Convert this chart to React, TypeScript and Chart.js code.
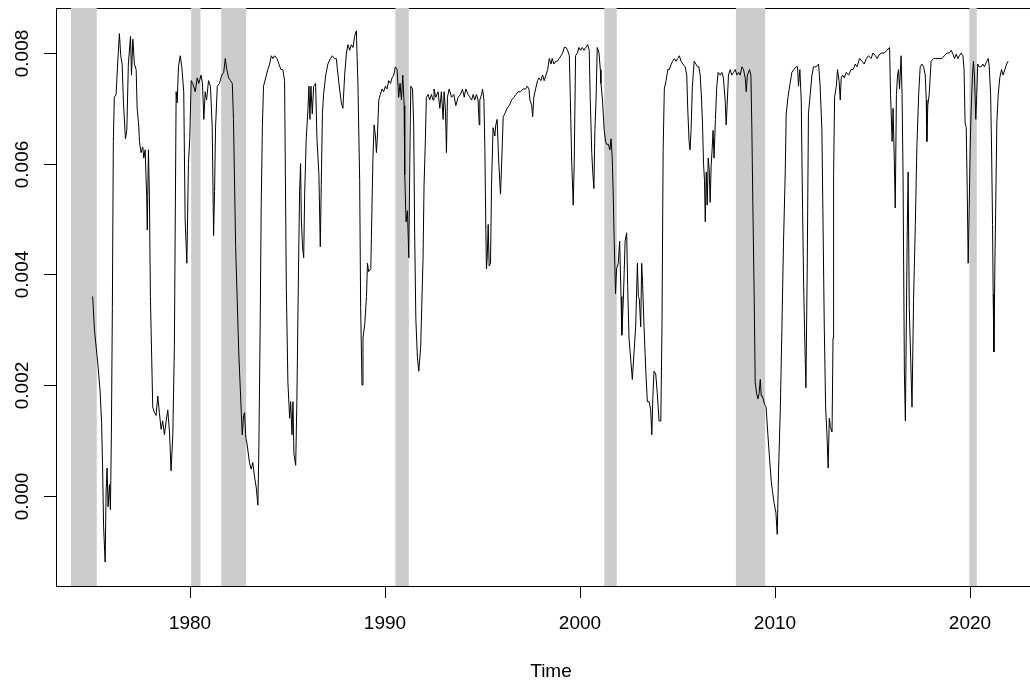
import React, { useEffect, useRef } from "react";
import { Chart, registerables } from "chart.js";

Chart.register(...registerables);

type Obs = [number, number]; // [decimal year, value]

// Monthly series, read as [time, value] turning points, one array per decade.
const rate1970s: Obs[] = [
  [1975.0, 3.6e-3], [1975.09, 3.0e-3], [1975.26, 2.4e-3], [1975.38, 1.9e-3], [1975.46, 1.3e-3],
  [1975.51, 0.5e-3], [1975.56, -0.55e-3], [1975.64, -1.2e-3], [1975.69, 0.1e-3], [1975.74, 0.5e-3],
  [1975.79, -0.2e-3], [1975.86, 0.2e-3], [1975.91, -0.25e-3], [1975.96, 1.1e-3], [1976.01, 3.4e-3],
  [1976.06, 6.4e-3], [1976.11, 7.2e-3], [1976.2, 7.25e-3], [1976.28, 7.8e-3], [1976.37, 8.35e-3],
  [1976.44, 7.95e-3], [1976.51, 7.8e-3], [1976.58, 7.1e-3], [1976.68, 6.45e-3], [1976.75, 6.6e-3],
  [1976.83, 7.8e-3], [1976.94, 8.3e-3], [1976.99, 7.6e-3], [1977.06, 8.25e-3], [1977.14, 7.8e-3],
  [1977.23, 7.7e-3], [1977.28, 7.0e-3], [1977.36, 6.7e-3], [1977.4, 6.4e-3], [1977.48, 6.2e-3],
  [1977.57, 6.3e-3], [1977.62, 6.1e-3], [1977.69, 6.25e-3], [1977.77, 5.4e-3], [1977.8, 4.8e-3],
  [1977.86, 6.25e-3], [1977.91, 5.4e-3], [1977.96, 3.6e-3], [1978.08, 1.6e-3], [1978.17, 1.5e-3],
  [1978.25, 1.45e-3], [1978.34, 1.8e-3], [1978.42, 1.5e-3], [1978.51, 1.2e-3], [1978.59, 1.35e-3],
  [1978.68, 1.1e-3], [1978.77, 1.35e-3], [1978.85, 1.55e-3], [1978.94, 1.15e-3], [1979.02, 0.45e-3],
  [1979.11, 1.1e-3], [1979.19, 2.7e-3], [1979.28, 7.3e-3], [1979.33, 7.1e-3], [1979.4, 7.75e-3],
  [1979.49, 7.95e-3], [1979.57, 7.75e-3], [1979.67, 7.3e-3], [1979.74, 5.0e-3], [1979.83, 4.2e-3],
  [1979.91, 6.0e-3], [1979.98, 6.45e-3],
];

const rate1980s: Obs[] = [
  [1980.05, 7.5e-3], [1980.13, 7.45e-3], [1980.26, 7.3e-3], [1980.36, 7.55e-3], [1980.44, 7.45e-3],
  [1980.56, 7.6e-3], [1980.63, 7.45e-3], [1980.7, 6.8e-3], [1980.77, 7.3e-3], [1980.84, 7.15e-3],
  [1980.94, 7.5e-3], [1981.04, 7.4e-3], [1981.13, 6.65e-3], [1981.2, 4.7e-3], [1981.25, 5.5e-3],
  [1981.3, 6.65e-3], [1981.39, 7.4e-3], [1981.5, 7.45e-3], [1981.62, 7.6e-3], [1981.72, 7.65e-3],
  [1981.8, 7.9e-3], [1981.88, 7.7e-3], [1981.97, 7.55e-3], [1982.07, 7.5e-3], [1982.16, 7.45e-3],
  [1982.22, 6.8e-3], [1982.33, 4.5e-3], [1982.41, 3.55e-3], [1982.49, 2.6e-3], [1982.62, 1.5e-3],
  [1982.67, 1.1e-3], [1982.74, 1.45e-3], [1982.79, 1.5e-3], [1982.85, 1.05e-3], [1982.91, 0.95e-3],
  [1983.04, 0.6e-3], [1983.13, 0.48e-3], [1983.21, 0.6e-3], [1983.3, 0.34e-3], [1983.39, 0.14e-3],
  [1983.47, -0.17e-3], [1983.52, 0.8e-3], [1983.59, 3.1e-3], [1983.64, 5.2e-3], [1983.7, 6.65e-3],
  [1983.76, 7.4e-3], [1983.87, 7.55e-3], [1983.98, 7.7e-3], [1984.07, 7.8e-3], [1984.16, 7.95e-3],
  [1984.24, 7.9e-3], [1984.33, 7.95e-3], [1984.45, 7.9e-3], [1984.55, 7.8e-3], [1984.65, 7.7e-3],
  [1984.75, 7.7e-3], [1984.84, 7.5e-3], [1984.93, 3.75e-3], [1985.01, 2.05e-3], [1985.1, 1.4e-3],
  [1985.15, 1.7e-3], [1985.22, 1.1e-3], [1985.27, 1.7e-3], [1985.32, 0.75e-3], [1985.41, 0.55e-3],
  [1985.47, 1.7e-3], [1985.54, 3.7e-3], [1985.61, 5.5e-3], [1985.66, 6.0e-3], [1985.7, 5.0e-3],
  [1985.76, 4.5e-3], [1985.82, 4.3e-3], [1985.87, 5.45e-3], [1985.95, 6.45e-3], [1986.04, 7.0e-3],
  [1986.09, 7.4e-3], [1986.14, 6.8e-3], [1986.19, 7.4e-3], [1986.26, 6.9e-3], [1986.33, 7.4e-3],
  [1986.43, 7.45e-3], [1986.5, 6.45e-3], [1986.6, 5.8e-3], [1986.67, 4.5e-3], [1986.72, 5.6e-3],
  [1986.78, 6.9e-3], [1986.84, 7.25e-3], [1986.95, 7.6e-3], [1987.06, 7.8e-3], [1987.19, 7.9e-3],
  [1987.29, 7.95e-3], [1987.41, 7.9e-3], [1987.49, 7.9e-3], [1987.58, 7.6e-3], [1987.66, 7.35e-3],
  [1987.75, 7.1e-3], [1987.83, 7.0e-3], [1987.92, 7.6e-3], [1988.01, 8.0e-3], [1988.09, 8.15e-3],
  [1988.18, 8.05e-3], [1988.26, 8.15e-3], [1988.35, 8.1e-3], [1988.43, 8.3e-3], [1988.52, 8.4e-3],
  [1988.6, 7.45e-3], [1988.69, 5.7e-3], [1988.74, 3.4e-3], [1988.81, 2.0e-3], [1988.86, 2.85e-3],
  [1988.95, 3.1e-3], [1989.04, 3.6e-3], [1989.09, 4.2e-3], [1989.15, 4.05e-3], [1989.26, 4.1e-3],
  [1989.32, 5.2e-3], [1989.37, 6.1e-3], [1989.43, 6.7e-3], [1989.5, 6.5e-3], [1989.55, 6.2e-3],
  [1989.6, 6.5e-3], [1989.67, 7.15e-3], [1989.75, 7.25e-3], [1989.84, 7.35e-3], [1989.92, 7.3e-3],
];

const rate1990s: Obs[] = [
  [1990.01, 7.4e-3], [1990.09, 7.35e-3], [1990.18, 7.5e-3], [1990.27, 7.45e-3], [1990.35, 7.55e-3],
  [1990.44, 7.6e-3], [1990.52, 7.75e-3], [1990.61, 7.7e-3], [1990.69, 7.2e-3], [1990.76, 7.45e-3],
  [1990.83, 7.15e-3], [1990.9, 7.6e-3], [1990.97, 7.05e-3], [1991.0, 5.8e-3], [1991.07, 4.95e-3],
  [1991.14, 5.15e-3], [1991.21, 4.3e-3], [1991.26, 6.0e-3], [1991.31, 7.4e-3], [1991.4, 7.35e-3],
  [1991.46, 6.7e-3], [1991.51, 4.75e-3], [1991.57, 3.2e-3], [1991.65, 2.5e-3], [1991.72, 2.25e-3],
  [1991.82, 2.7e-3], [1991.94, 4.3e-3], [1991.99, 5.6e-3], [1992.06, 6.45e-3], [1992.11, 7.2e-3],
  [1992.2, 7.25e-3], [1992.28, 7.15e-3], [1992.37, 7.25e-3], [1992.45, 7.15e-3], [1992.5, 7.35e-3],
  [1992.59, 7.2e-3], [1992.71, 7.3e-3], [1992.8, 7.0e-3], [1992.88, 7.3e-3], [1992.97, 6.8e-3],
  [1993.02, 7.3e-3], [1993.09, 6.95e-3], [1993.14, 6.2e-3], [1993.19, 7.2e-3], [1993.28, 7.35e-3],
  [1993.4, 7.2e-3], [1993.52, 7.25e-3], [1993.62, 7.05e-3], [1993.74, 7.2e-3], [1993.86, 7.25e-3],
  [1993.96, 7.35e-3], [1994.05, 7.2e-3], [1994.13, 7.35e-3], [1994.25, 7.25e-3], [1994.34, 7.2e-3],
  [1994.43, 7.15e-3], [1994.51, 7.25e-3], [1994.59, 7.15e-3], [1994.68, 7.25e-3], [1994.76, 7.15e-3],
  [1994.82, 6.7e-3], [1994.85, 7.15e-3], [1994.94, 7.25e-3], [1994.99, 7.35e-3], [1995.06, 7.15e-3],
  [1995.11, 6.25e-3], [1995.16, 4.8e-3], [1995.19, 4.1e-3], [1995.23, 4.3e-3], [1995.28, 4.9e-3],
  [1995.33, 4.15e-3], [1995.4, 4.2e-3], [1995.45, 5.6e-3], [1995.53, 6.65e-3], [1995.62, 6.5e-3],
  [1995.67, 6.7e-3], [1995.74, 6.8e-3], [1995.81, 6.1e-3], [1995.91, 5.45e-3], [1995.96, 5.9e-3],
  [1996.05, 6.85e-3], [1996.13, 6.9e-3], [1996.25, 7.0e-3], [1996.36, 7.05e-3], [1996.48, 7.15e-3],
  [1996.6, 7.2e-3], [1996.7, 7.25e-3], [1996.82, 7.3e-3], [1996.94, 7.3e-3], [1997.07, 7.35e-3],
  [1997.2, 7.35e-3], [1997.28, 7.4e-3], [1997.37, 7.35e-3], [1997.42, 7.15e-3], [1997.51, 7.05e-3],
  [1997.56, 6.85e-3], [1997.62, 7.2e-3], [1997.71, 7.35e-3], [1997.81, 7.5e-3], [1997.88, 7.55e-3],
  [1997.98, 7.5e-3], [1998.07, 7.6e-3], [1998.15, 7.5e-3], [1998.24, 7.6e-3], [1998.33, 7.7e-3],
  [1998.41, 7.9e-3], [1998.5, 7.8e-3], [1998.56, 7.9e-3], [1998.65, 7.8e-3], [1998.74, 7.85e-3],
  [1998.82, 7.85e-3], [1998.92, 7.9e-3], [1999.01, 7.95e-3], [1999.1, 8.0e-3], [1999.18, 8.1e-3],
  [1999.27, 8.1e-3], [1999.35, 8.05e-3], [1999.44, 7.95e-3], [1999.49, 7.2e-3], [1999.56, 6.05e-3],
  [1999.64, 5.25e-3], [1999.69, 6.0e-3], [1999.76, 7.95e-3], [1999.85, 8.0e-3], [1999.93, 8.1e-3],
];

const rate2000s: Obs[] = [
  [2000.02, 8.05e-3], [2000.1, 8.1e-3], [2000.19, 8.05e-3], [2000.28, 8.1e-3], [2000.38, 8.15e-3],
  [2000.46, 8.05e-3], [2000.51, 7.2e-3], [2000.59, 6.2e-3], [2000.64, 5.85e-3], [2000.7, 5.55e-3],
  [2000.75, 6.6e-3], [2000.81, 7.15e-3], [2000.87, 8.1e-3], [2000.96, 8.0e-3], [2001.03, 7.7e-3],
  [2001.06, 7.45e-3], [2001.13, 7.2e-3], [2001.18, 6.9e-3], [2001.23, 6.6e-3], [2001.3, 6.4e-3],
  [2001.35, 6.35e-3], [2001.44, 6.35e-3], [2001.52, 6.25e-3], [2001.58, 6.45e-3], [2001.64, 6.1e-3],
  [2001.69, 5.45e-3], [2001.74, 4.6e-3], [2001.81, 3.65e-3], [2001.86, 4.1e-3], [2001.95, 4.2e-3],
  [2002.02, 4.6e-3], [2002.09, 3.6e-3], [2002.13, 2.9e-3], [2002.21, 3.55e-3], [2002.3, 4.6e-3],
  [2002.38, 4.75e-3], [2002.43, 3.8e-3], [2002.5, 2.85e-3], [2002.59, 2.45e-3], [2002.67, 2.1e-3],
  [2002.76, 2.6e-3], [2002.84, 3.05e-3], [2002.93, 4.2e-3], [2002.98, 3.6e-3], [2003.03, 3.55e-3],
  [2003.1, 3.05e-3], [2003.15, 4.2e-3], [2003.2, 3.8e-3], [2003.27, 3.05e-3], [2003.36, 2.25e-3],
  [2003.44, 1.7e-3], [2003.53, 1.7e-3], [2003.61, 1.55e-3], [2003.67, 1.1e-3], [2003.72, 1.75e-3],
  [2003.78, 2.25e-3], [2003.87, 2.2e-3], [2003.95, 1.85e-3], [2004.04, 1.35e-3], [2004.13, 1.35e-3],
  [2004.19, 3.05e-3], [2004.25, 6.25e-3], [2004.31, 7.35e-3], [2004.4, 7.5e-3], [2004.49, 7.7e-3],
  [2004.57, 7.7e-3], [2004.66, 7.8e-3], [2004.74, 7.85e-3], [2004.82, 7.9e-3], [2004.91, 7.85e-3],
  [2005.0, 7.9e-3], [2005.08, 7.95e-3], [2005.17, 7.85e-3], [2005.26, 7.8e-3], [2005.38, 7.75e-3],
  [2005.46, 7.6e-3], [2005.51, 7.0e-3], [2005.58, 6.4e-3], [2005.63, 6.25e-3], [2005.68, 6.6e-3],
  [2005.75, 7.4e-3], [2005.84, 7.85e-3], [2005.93, 7.8e-3], [2006.01, 7.75e-3], [2006.08, 7.75e-3],
  [2006.15, 7.6e-3], [2006.22, 7.15e-3], [2006.27, 6.7e-3], [2006.32, 6.0e-3], [2006.37, 5.7e-3],
  [2006.41, 4.95e-3], [2006.46, 5.85e-3], [2006.51, 5.25e-3], [2006.56, 6.1e-3], [2006.61, 5.9e-3],
  [2006.66, 5.3e-3], [2006.71, 5.95e-3], [2006.76, 6.25e-3], [2006.81, 6.6e-3], [2006.86, 6.1e-3],
  [2006.93, 6.8e-3], [2007.0, 7.4e-3], [2007.07, 7.65e-3], [2007.17, 7.6e-3], [2007.26, 7.65e-3],
  [2007.34, 7.55e-3], [2007.43, 7.15e-3], [2007.48, 6.7e-3], [2007.53, 7.05e-3], [2007.6, 7.6e-3],
  [2007.69, 7.7e-3], [2007.77, 7.6e-3], [2007.86, 7.65e-3], [2007.95, 7.7e-3], [2008.03, 7.6e-3],
  [2008.12, 7.65e-3], [2008.2, 7.6e-3], [2008.29, 7.75e-3], [2008.37, 7.7e-3], [2008.46, 7.55e-3],
  [2008.51, 7.3e-3], [2008.57, 7.6e-3], [2008.68, 7.7e-3], [2008.75, 7.6e-3], [2008.8, 6.6e-3],
  [2008.85, 5.25e-3], [2008.92, 3.55e-3], [2008.97, 2.05e-3], [2009.04, 1.85e-3], [2009.11, 1.75e-3],
  [2009.17, 1.85e-3], [2009.23, 2.1e-3], [2009.28, 1.8e-3], [2009.34, 1.8e-3], [2009.45, 1.65e-3],
  [2009.53, 1.6e-3], [2009.62, 1.1e-3], [2009.7, 0.7e-3], [2009.79, 0.27e-3], [2009.86, 0.07e-3],
  [2009.94, -0.14e-3],
];

const rate2010s: Obs[] = [
  [2010.03, -0.3e-3], [2010.1, -0.7e-3], [2010.17, 0.48e-3], [2010.26, 1.6e-3], [2010.34, 3.05e-3],
  [2010.42, 4.55e-3], [2010.51, 5.85e-3], [2010.56, 6.9e-3], [2010.65, 7.2e-3], [2010.76, 7.45e-3],
  [2010.85, 7.65e-3], [2010.95, 7.7e-3], [2011.06, 7.75e-3], [2011.14, 7.75e-3], [2011.19, 7.4e-3],
  [2011.26, 7.7e-3], [2011.33, 7.15e-3], [2011.4, 5.15e-3], [2011.45, 3.9e-3], [2011.5, 3.0e-3],
  [2011.57, 1.95e-3], [2011.64, 4.2e-3], [2011.7, 6.9e-3], [2011.79, 7.25e-3], [2011.88, 7.6e-3],
  [2011.96, 7.75e-3], [2012.1, 7.75e-3], [2012.22, 7.8e-3], [2012.3, 7.4e-3], [2012.39, 6.6e-3],
  [2012.44, 5.15e-3], [2012.51, 3.1e-3], [2012.58, 1.6e-3], [2012.65, 1.1e-3], [2012.71, 0.5e-3],
  [2012.77, 1.4e-3], [2012.82, 1.25e-3], [2012.91, 1.15e-3], [2012.96, 2.85e-3], [2012.99, 5.8e-3],
  [2013.04, 7.2e-3], [2013.13, 7.4e-3], [2013.19, 7.7e-3], [2013.27, 7.5e-3], [2013.33, 7.15e-3],
  [2013.38, 7.55e-3], [2013.45, 7.6e-3], [2013.54, 7.55e-3], [2013.64, 7.65e-3], [2013.76, 7.6e-3],
  [2013.88, 7.7e-3], [2013.99, 7.7e-3], [2014.1, 7.8e-3], [2014.19, 7.75e-3], [2014.32, 7.9e-3],
  [2014.45, 7.85e-3], [2014.56, 7.8e-3], [2014.67, 7.9e-3], [2014.78, 7.95e-3], [2014.91, 7.9e-3],
  [2015.01, 8.0e-3], [2015.13, 7.95e-3], [2015.22, 7.9e-3], [2015.35, 7.98e-3], [2015.47, 8.0e-3],
  [2015.59, 8.0e-3], [2015.73, 8.05e-3], [2015.86, 8.1e-3], [2015.91, 7.25e-3], [2015.99, 6.4e-3],
  [2016.04, 7.0e-3], [2016.1, 6.1e-3], [2016.15, 5.2e-3], [2016.21, 7.25e-3], [2016.27, 7.6e-3],
  [2016.32, 7.7e-3], [2016.37, 7.35e-3], [2016.45, 7.95e-3], [2016.5, 7.25e-3], [2016.55, 5.8e-3],
  [2016.62, 2.2e-3], [2016.67, 1.35e-3], [2016.76, 4.6e-3], [2016.81, 5.85e-3], [2016.87, 3.4e-3],
  [2016.94, 2.5e-3], [2017.01, 1.6e-3], [2017.09, 3.55e-3], [2017.18, 4.9e-3], [2017.26, 6.3e-3],
  [2017.35, 7.25e-3], [2017.43, 7.75e-3], [2017.52, 7.8e-3], [2017.6, 7.75e-3], [2017.69, 7.6e-3],
  [2017.74, 7.15e-3], [2017.77, 6.4e-3], [2017.82, 7.05e-3], [2017.89, 7.25e-3], [2017.99, 7.85e-3],
  [2018.11, 7.9e-3], [2018.23, 7.9e-3], [2018.37, 7.9e-3], [2018.54, 7.9e-3], [2018.67, 7.95e-3],
  [2018.8, 8.0e-3], [2018.92, 8.0e-3], [2019.02, 8.05e-3], [2019.11, 7.98e-3], [2019.19, 7.9e-3],
  [2019.28, 7.98e-3], [2019.36, 7.9e-3], [2019.44, 7.95e-3], [2019.53, 8.0e-3], [2019.62, 7.95e-3],
  [2019.68, 7.7e-3], [2019.73, 6.75e-3], [2019.79, 6.65e-3], [2019.84, 5.55e-3], [2019.89, 4.2e-3],
  [2019.94, 5.15e-3], [2019.99, 6.25e-3],
];

const rate2020s: Obs[] = [
  [2020.04, 6.95e-3], [2020.11, 7.6e-3], [2020.16, 7.85e-3], [2020.21, 7.6e-3], [2020.28, 6.8e-3],
  [2020.33, 7.25e-3], [2020.38, 7.8e-3], [2020.45, 7.75e-3], [2020.55, 7.75e-3], [2020.64, 7.8e-3],
  [2020.72, 7.75e-3], [2020.84, 7.85e-3], [2020.92, 7.9e-3], [2020.97, 7.75e-3], [2021.04, 7.25e-3],
  [2021.09, 6.25e-3], [2021.14, 4.9e-3], [2021.17, 3.65e-3], [2021.21, 2.6e-3], [2021.26, 4.2e-3],
  [2021.31, 5.45e-3], [2021.36, 6.75e-3], [2021.43, 7.25e-3], [2021.51, 7.55e-3], [2021.6, 7.7e-3],
  [2021.68, 7.6e-3], [2021.77, 7.7e-3], [2021.86, 7.8e-3], [2021.94, 7.85e-3],
];

// Shaded recession periods (start / end, decimal years)
const recessionStart = [1973.89, 1980.05, 1981.59, 1990.52, 2001.23, 2007.98, 2019.95];
const recessionEnd = [1975.21, 1980.53, 1982.87, 1991.21, 2001.87, 2009.48, 2020.33];

const xTickValues = [1980, 1990, 2000, 2010, 2020];
const xTickLabels = ["1980", "1990", "2000", "2010", "2020"];
const yTickValues = [0, 0.002, 0.004, 0.006, 0.008];
const yTickLabels = ["0.000", "0.002", "0.004", "0.006", "0.008"];
const xTitle = "Time";

// Axis limits: data range plus 4% on each side
const X_MIN = 1973.12;
const X_MAX = 2023.88;
const Y_MIN = -0.001632;
const Y_MAX = 0.008813;

const CANVAS_W = 1060;
const CANVAS_H = 680;
const FONT = '19px "Liberation Sans", Arial, Helvetica, sans-serif';
const INK = "#000000";

const baseGraphicsPlugin = {
  id: "baseGraphics",
  beforeDatasetsDraw(chart: any) {
    const { ctx, chartArea: a, scales } = chart;
    const x = scales.x;
    ctx.save();
    // plot frame
    ctx.fillStyle = INK;
    const L = Math.round(a.left);
    const T = Math.round(a.top);
    const R = Math.round(a.right);
    const B = Math.round(a.bottom);
    ctx.fillRect(L, T, R - L + 1, 1);
    ctx.fillRect(L, B, R - L + 1, 1);
    ctx.fillRect(L, T, 1, B - T + 1);
    ctx.fillRect(R, T, 1, B - T + 1);
    // recession bands
    ctx.fillStyle = "#cccccc";
    recessionStart.forEach((s, i) => {
      const x0 = x.getPixelForValue(s);
      const x1 = x.getPixelForValue(recessionEnd[i]);
      ctx.fillRect(x0, T, x1 - x0, B - T);
    });
    ctx.restore();
  },
  afterDraw(chart: any) {
    const { ctx, chartArea: a, scales } = chart;
    const x = scales.x;
    const y = scales.y;
    const B = Math.round(a.bottom);
    const L = Math.round(a.left);
    ctx.save();
    ctx.fillStyle = INK;
    ctx.font = FONT;
    // x axis ticks and labels
    ctx.textAlign = "center";
    ctx.textBaseline = "alphabetic";
    xTickValues.forEach((v, i) => {
      const px = Math.round(x.getPixelForValue(v));
      ctx.fillRect(px, B, 1, 12);
      ctx.fillText(xTickLabels[i], px, B + 43);
    });
    // x axis title
    ctx.fillText(xTitle, (a.left + a.right) / 2, B + 91);
    // y axis ticks and rotated labels
    yTickValues.forEach((v, i) => {
      const py = Math.round(y.getPixelForValue(v));
      ctx.fillRect(L - 12, py, 12, 1);
      ctx.save();
      ctx.translate(L - 28, py + 0.5);
      ctx.rotate(-Math.PI / 2);
      ctx.fillText(yTickLabels[i], 0, 0);
      ctx.restore();
    });
    ctx.restore();
  },
};

export default function App() {
  const canvasRef = useRef<HTMLCanvasElement | null>(null);

  useEffect(() => {
    const canvas = canvasRef.current;
    if (!canvas) return;
    const series = [...rate1970s, ...rate1980s, ...rate1990s, ...rate2000s, ...rate2010s, ...rate2020s].map(
      ([t, v]) => ({ x: t, y: v })
    );
    const chart = new Chart(canvas, {
      type: "line",
      data: {
        datasets: [
          {
            data: series,
            borderColor: "#000000",
            borderWidth: 1,
            pointRadius: 0,
            pointHoverRadius: 0,
            tension: 0,
            fill: false,
          },
        ],
      },
      options: {
        responsive: false,
        maintainAspectRatio: false,
        devicePixelRatio: 1,
        animation: false,
        events: [],
        layout: { padding: { left: 56, top: 8, right: CANVAS_W - 1046, bottom: CANVAS_H - 586 } },
        plugins: { legend: { display: false }, tooltip: { enabled: false }, title: { display: false } },
        scales: {
          x: { type: "linear", min: X_MIN, max: X_MAX, display: false },
          y: { type: "linear", min: Y_MIN, max: Y_MAX, display: false },
        },
      },
      plugins: [baseGraphicsPlugin],
    });
    return () => chart.destroy();
  }, []);

  return (
    <div
      style={{
        position: "fixed",
        left: 0,
        top: 0,
        width: 1030,
        height: 680,
        overflow: "hidden",
        background: "#ffffff",
      }}
    >
      <canvas
        ref={canvasRef}
        width={CANVAS_W}
        height={CANVAS_H}
        style={{ display: "block", width: CANVAS_W, height: CANVAS_H }}
      />
    </div>
  );
}
